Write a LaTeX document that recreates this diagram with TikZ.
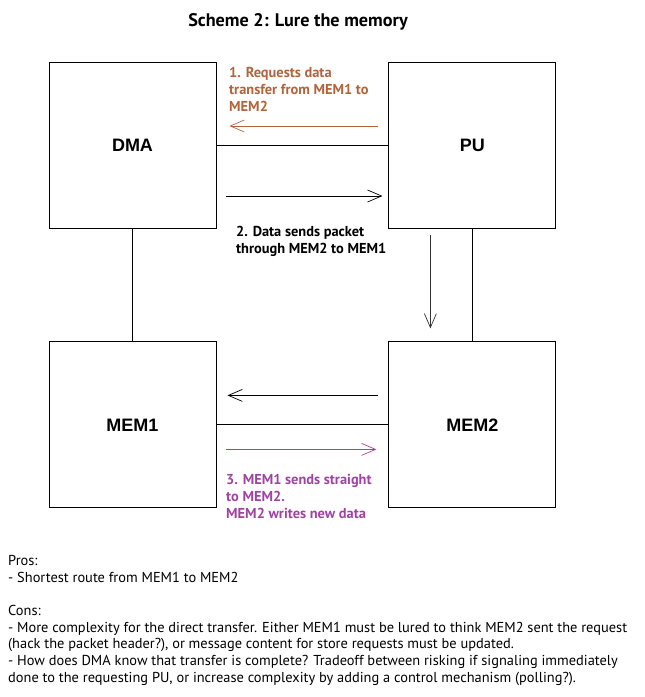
\documentclass[tikz,border=0pt]{standalone}
\usepackage{fontspec}
\setmainfont{PT Sans}
\newfontfamily\boxfont{Liberation Sans}
\usetikzlibrary{positioning,arrows.meta}
\definecolor{reqorange}{RGB}{176,100,60}
\definecolor{mempurple}{RGB}{158,68,160}
\begin{document}
\begin{tikzpicture}[x=1pt,y=1pt,
		unit/.style={draw, line width=0.9pt, minimum width=167pt, minimum height=166pt, inner sep=0pt, font=\boxfont\bfseries\fontsize{18}{21}\selectfont},
		flow/.style={-{Straight Barb[length=14pt,width=12pt]}, line width=0.7pt},
		note/.style={anchor=north west, align=left, inner sep=0pt, font=\bfseries\fontsize{14.4}{17}\selectfont},
		txt/.style={anchor=north west, align=left, inner sep=0pt, font=\fontsize{14.4}{16.7}\selectfont}]
			\useasboundingbox (0,0) rectangle (645,-697);
			\node (title) at (298,-22) {\bfseries\fontsize{18.2}{21}\selectfont Scheme 2: Lure the memory};
			\node[unit] (dma) at (132.5,-145) {DMA};
			\node[unit, right=172pt of dma] (pu) {PU};
			\node[unit, below=113pt of dma] (mem1) {MEM1};
			\node[unit, right=172pt of mem1] (mem2) {MEM2};
			\draw[line width=0.9pt] (dma) -- (pu);
			\draw[line width=0.9pt] (dma) -- (mem1);
			\draw[line width=0.9pt] (pu) -- (mem2);
			\draw[line width=0.9pt] (mem1) -- (mem2);
			% arrow ends
			\coordinate (r1) at ([xshift=-10pt,yshift=19pt]pu.west);
			\coordinate (r2) at ([xshift=13pt,yshift=19pt]dma.east);
			\coordinate (d1) at ([xshift=10pt,yshift=-51pt]dma.east);
			\coordinate (d2) at ([xshift=-6pt,yshift=-51pt]pu.west);
			\coordinate (p1) at ([xshift=-42pt,yshift=-7pt]pu.south);
			\coordinate (p2) at ([xshift=-42pt,yshift=13pt]mem2.north);
			\coordinate (m1) at ([xshift=-10pt,yshift=29.5pt]mem2.west);
			\coordinate (m2) at ([xshift=11pt,yshift=29.5pt]mem1.east);
			\coordinate (s1) at ([xshift=10pt,yshift=-24.5pt]mem1.east);
			\coordinate (s2) at ([xshift=-12pt,yshift=-24.5pt]mem2.west);
			\draw[flow, reqorange] (r1) -- (r2);
			\draw[flow] (d1) -- (d2);
			\draw[flow, black!80] (p1) -- (p2);
			\draw[flow] (m1) -- (m2);
			\draw[flow, mempurple] (s1) -- (s2);
			\node[note, text=reqorange] (req) at (229,-67) {1. Requests data\\transfer from MEM1 to\\MEM2};
			\node[note] (send) at (236,-226) {2. Data sends packet\\through MEM2 to MEM1};
			\node[note, text=mempurple] (straight) at (226,-474) {3. MEM1 sends straight\\to MEM2.\\MEM2 writes new data};
			\node[txt] (pros) at (8,-555) {Pros:\\- Shortest route from MEM1 to MEM2\\[16.7pt]Cons:\\- More complexity for the direct transfer. Either MEM1 must be lured to think MEM2 sent the request\\(hack the packet header?), or message content for store requests must be updated.\\- How does DMA know that transfer is complete? Tradeoff between risking if signaling immediately\\done to the requesting PU, or increase complexity by adding a control mechanism (polling?).};
		\end{tikzpicture}
\end{document}
